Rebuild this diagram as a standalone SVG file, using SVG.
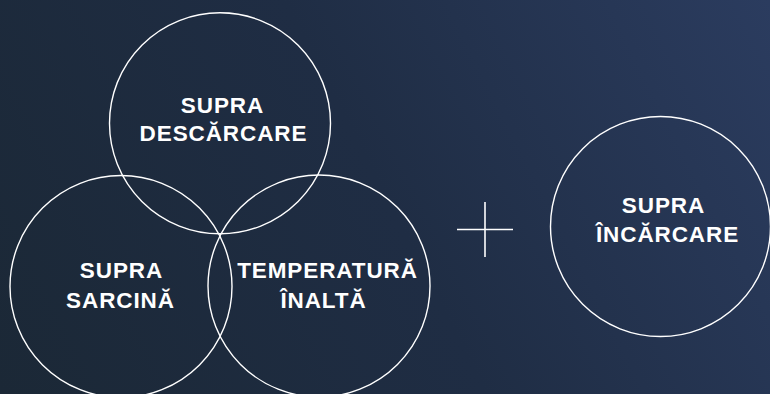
<svg xmlns="http://www.w3.org/2000/svg" width="770" height="394" viewBox="0 0 770 394">
<defs>
<linearGradient id="bg" x1="0" y1="394" x2="770" y2="0" gradientUnits="userSpaceOnUse">
<stop offset="0" stop-color="#1b2836"/>
<stop offset="0.5" stop-color="#1f2d44"/>
<stop offset="1" stop-color="#2b3c5f"/>
</linearGradient>
<style>
.c{fill:none;stroke:#ffffff;stroke-width:1.4}
.t{font-family:"Liberation Sans",Arial,sans-serif;font-weight:bold;font-size:22.5px;fill:#ffffff;text-anchor:middle;letter-spacing:0.9px}
.p{stroke:#ffffff;stroke-width:1.6;fill:none}
</style>
</defs>
<rect width="770" height="394" fill="url(#bg)"/>
<g id="node-supra-descarcare">
<circle class="c" cx="220" cy="123.3" r="110.5"/>
<text class="t" x="222.5" y="113.3">SUPRA</text>
<text class="t" x="223.5" y="140.7">DESCĂRCARE</text>
</g>
<g id="node-supra-sarcina">
<circle class="c" cx="121" cy="286.5" r="111"/>
<text class="t" x="121.5" y="278.3">SUPRA</text>
<text class="t" x="120.5" y="308.3">SARCINĂ</text>
</g>
<g id="node-temperatura-inalta">
<circle class="c" cx="319" cy="286" r="111"/>
<text class="t" x="327.5" y="278.3">TEMPERATURĂ</text>
<text class="t" x="323.5" y="308.3">ÎNALTĂ</text>
</g>
<g id="connectors">
<line class="p" x1="457" y1="229.5" x2="513" y2="229.5"/>
<line class="p" x1="485" y1="202" x2="485" y2="257"/>
</g>
<g id="node-supra-incarcare">
<circle class="c" cx="660.5" cy="226.5" r="110"/>
<text class="t" x="663.5" y="213.3">SUPRA</text>
<text class="t" x="667.5" y="241.7">ÎNCĂRCARE</text>
</g>
</svg>
